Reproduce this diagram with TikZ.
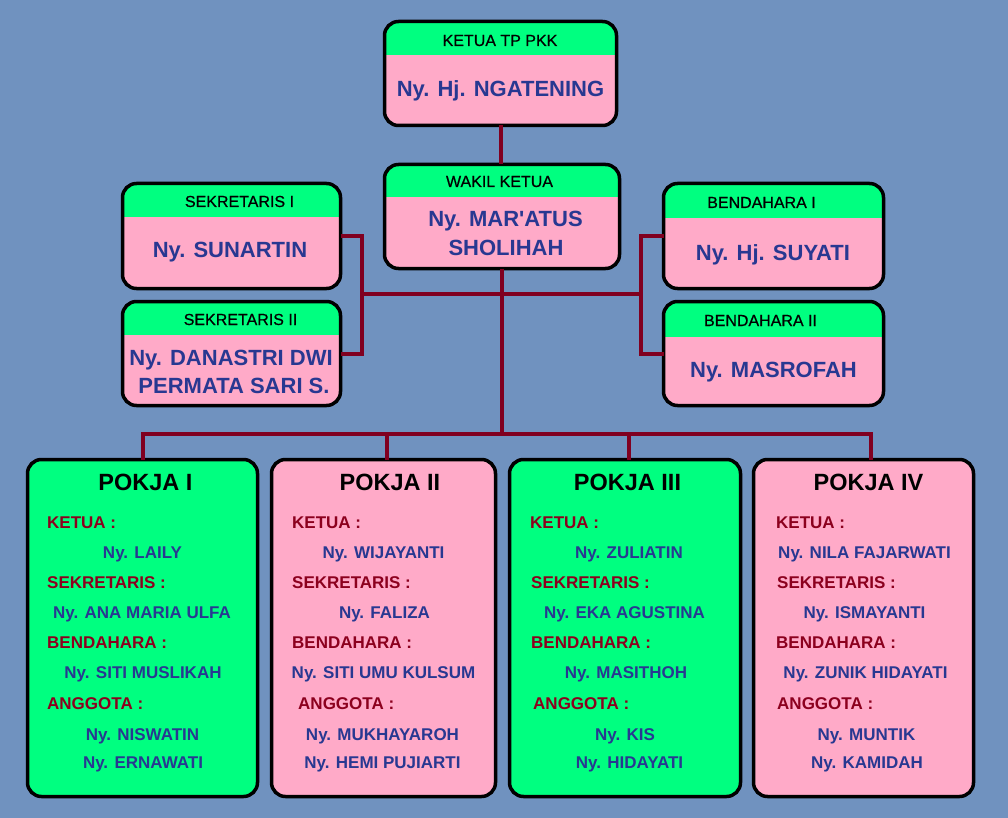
\documentclass[tikz,border=0pt]{standalone}
\usepackage{fontspec}
\setmainfont{Liberation Sans}
\newfontfamily\hdfont[FakeBold=0.6]{Liberation Sans}
\definecolor{bgc}{RGB}{112,146,191}
\definecolor{hdrc}{RGB}{0,255,128}
\definecolor{pinkc}{RGB}{255,170,200}
\definecolor{namec}{RGB}{40,56,145}
\definecolor{labc}{RGB}{140,0,30}
\definecolor{linec}{RGB}{128,0,32}
\tikzset{
  box/.style={draw=black, line width=3.5pt, rounded corners=14pt, fill=pinkc, inner sep=0pt, outer sep=0pt},
  gbox/.style={box, fill=hdrc},
  hdr/.style={path picture={\fill[hdrc, sharp corners] (path picture bounding box.north west) rectangle ([yshift=-#1]path picture bounding box.north east);}},
  hd/.style={anchor=base, inner sep=0pt, font=\hdfont\fontsize{16}{18}\selectfont, text=black},
  nm/.style={anchor=base, inner sep=0pt, font=\fontsize{22}{26}\bfseries\selectfont, text=namec},
  ttl/.style={anchor=base, inner sep=0pt, font=\fontsize{23.5}{26}\bfseries\selectfont, text=black},
  lab/.style={anchor=base west, inner sep=0pt, font=\fontsize{17}{19}\bfseries\selectfont, text=labc},
  pn/.style={anchor=base, inner sep=0pt, font=\fontsize{17}{19}\bfseries\selectfont, text=namec},
  conn/.style={draw=linec, line width=4pt}
}
\begin{document}
\begin{tikzpicture}[x=1pt,y=-1pt]
\fill[bgc] (0,0) rectangle (1008,818);
\useasboundingbox (0,0) rectangle (1008,818);

% upper boxes
\node[box, hdr=33.5pt, minimum width=232pt, minimum height=104pt] (ketua) at (500.5,73.5) {};
\node[box, hdr=32.5pt, minimum width=235pt, minimum height=104pt] (wakil) at (502,216.5) {};
\node[box, hdr=33.5pt, minimum width=218pt, minimum height=105pt] (sek1) at (231.5,236) {};
\node[box, hdr=33.5pt, minimum width=218pt, minimum height=104pt] (sek2) at (231.5,353.5) {};
\node[box, hdr=34.5pt, minimum width=220pt, minimum height=105pt] (ben1) at (773.5,236) {};
\node[box, hdr=35.5pt, minimum width=220pt, minimum height=104pt] (ben2) at (773.5,353.5) {};

% pokja boxes
\node[gbox, minimum width=230pt, minimum height=337pt] (p1) at (142.5,628) {};
\node[box,  minimum width=224pt, minimum height=337pt] (p2) at (383.5,628) {};
\node[gbox, minimum width=231pt, minimum height=337pt] (p3) at (625,628) {};
\node[box,  minimum width=220pt, minimum height=337pt] (p4) at (863.5,628) {};

% connectors
\coordinate (bus) at (502,434);
\coordinate (lj) at (361.5,293.5);
\coordinate (rj) at (641,293.5);
\coordinate (d1) at (143,434);
\coordinate (d2) at (387,434);
\coordinate (d3) at (629,434);
\coordinate (d4) at (871,434);
\draw[conn] (ketua.south) -- (ketua.south |- wakil.north);
\draw[conn] (wakil.south) -- (bus);
\draw[conn] (sek1.east) -| (lj) |- (sek2.east);
\draw[conn] (ben1.west) -| (rj) |- (ben2.west);
\draw[conn] (lj) -- (rj);
\draw[conn, line cap=rect] (d1) -- (d4);
\draw[conn] (d1) -- (d1 |- p1.north);
\draw[conn] (d2) -- (d2 |- p2.north);
\draw[conn] (d3) -- (d3 |- p3.north);
\draw[conn] (d4) -- (d4 |- p4.north);

% upper texts
\node[hd] (ketuah) at (500,46) {KETUA TP PKK};
\node[nm] (ketuan) at (500.5,97) {Ny. Hj. NGATENING};
\node[hd] (wakilh) at (499.5,187) {WAKIL KETUA};
\node[nm] (wakiln1) at (505.5,226) {Ny. MAR\textquotesingle ATUS};
\node[nm] (wakiln2) at (506,255) {SHOLIHAH};
\node[hd] (sek1h) at (239.5,207) {SEKRETARIS I};
\node[nm] (sek1n) at (230,258) {Ny. SUNARTIN};
\node[hd] (sek2h) at (240.5,325) {SEKRETARIS II};
\node[nm] (sek2n1) at (231,365) {Ny. DANASTRI DWI};
\node[nm] (sek2n2) at (234,393) {PERMATA SARI S.};
\node[hd] (ben1h) at (761.5,208) {BENDAHARA I};
\node[nm] (ben1n) at (773,260) {Ny. Hj. SUYATI};
\node[hd] (ben2h) at (760.5,326) {BENDAHARA II};
\node[nm] (ben2n) at (773.5,377) {Ny. MASROFAH};

% pokja I
\node[ttl] (p1t) at (145.5,490) {POKJA I};
\node[lab] (p1a) at (47,528) {KETUA :};
\node[pn]  (p1b) at (142.5,558) {Ny. LAILY};
\node[lab] (p1c) at (47,588) {SEKRETARIS :};
\node[pn]  (p1d) at (142,618) {Ny. ANA MARIA ULFA};
\node[lab] (p1e) at (47,648) {BENDAHARA :};
\node[pn]  (p1f) at (143,678) {Ny. SITI MUSLIKAH};
\node[lab] (p1g) at (47,709) {ANGGOTA :};
\node[pn]  (p1h) at (142.5,740) {Ny. NISWATIN};
\node[pn]  (p1i) at (143,768) {Ny. ERNAWATI};

% pokja II
\node[ttl] (p2t) at (390,490) {POKJA II};
\node[lab] (p2a) at (292,528) {KETUA :};
\node[pn]  (p2b) at (383.5,558) {Ny. WIJAYANTI};
\node[lab] (p2c) at (292,588) {SEKRETARIS :};
\node[pn]  (p2d) at (384.5,618) {Ny. FALIZA};
\node[lab] (p2e) at (292,648) {BENDAHARA :};
\node[pn]  (p2f) at (383.5,678) {Ny. SITI UMU KULSUM};
\node[lab] (p2g) at (298,709) {ANGGOTA :};
\node[pn]  (p2h) at (382.5,740) {Ny. MUKHAYAROH};
\node[pn]  (p2i) at (382.5,768) {Ny. HEMI PUJIARTI};

% pokja III
\node[ttl] (p3t) at (627.5,490) {POKJA III};
\node[lab] (p3a) at (530,528) {KETUA :};
\node[pn]  (p3b) at (629,558) {Ny. ZULIATIN};
\node[lab] (p3c) at (531,588) {SEKRETARIS :};
\node[pn]  (p3d) at (624.5,618) {Ny. EKA AGUSTINA};
\node[lab] (p3e) at (531,648) {BENDAHARA :};
\node[pn]  (p3f) at (626,678) {Ny. MASITHOH};
\node[lab] (p3g) at (533,709) {ANGGOTA :};
\node[pn]  (p3h) at (625,740) {Ny. KIS};
\node[pn]  (p3i) at (629.5,768) {Ny. HIDAYATI};

% pokja IV
\node[ttl] (p4t) at (868.5,490) {POKJA IV};
\node[lab] (p4a) at (776,528) {KETUA :};
\node[pn]  (p4b) at (864.5,558) {Ny. NILA FAJARWATI};
\node[lab] (p4c) at (777,588) {SEKRETARIS :};
\node[pn]  (p4d) at (864.5,618) {Ny. ISMAYANTI};
\node[lab] (p4e) at (776,648) {BENDAHARA :};
\node[pn]  (p4f) at (865.5,678) {Ny. ZUNIK HIDAYATI};
\node[lab] (p4g) at (777,709) {ANGGOTA :};
\node[pn]  (p4h) at (866.5,740) {Ny. MUNTIK};
\node[pn]  (p4i) at (867,768) {Ny. KAMIDAH};
\end{tikzpicture}
\end{document}
